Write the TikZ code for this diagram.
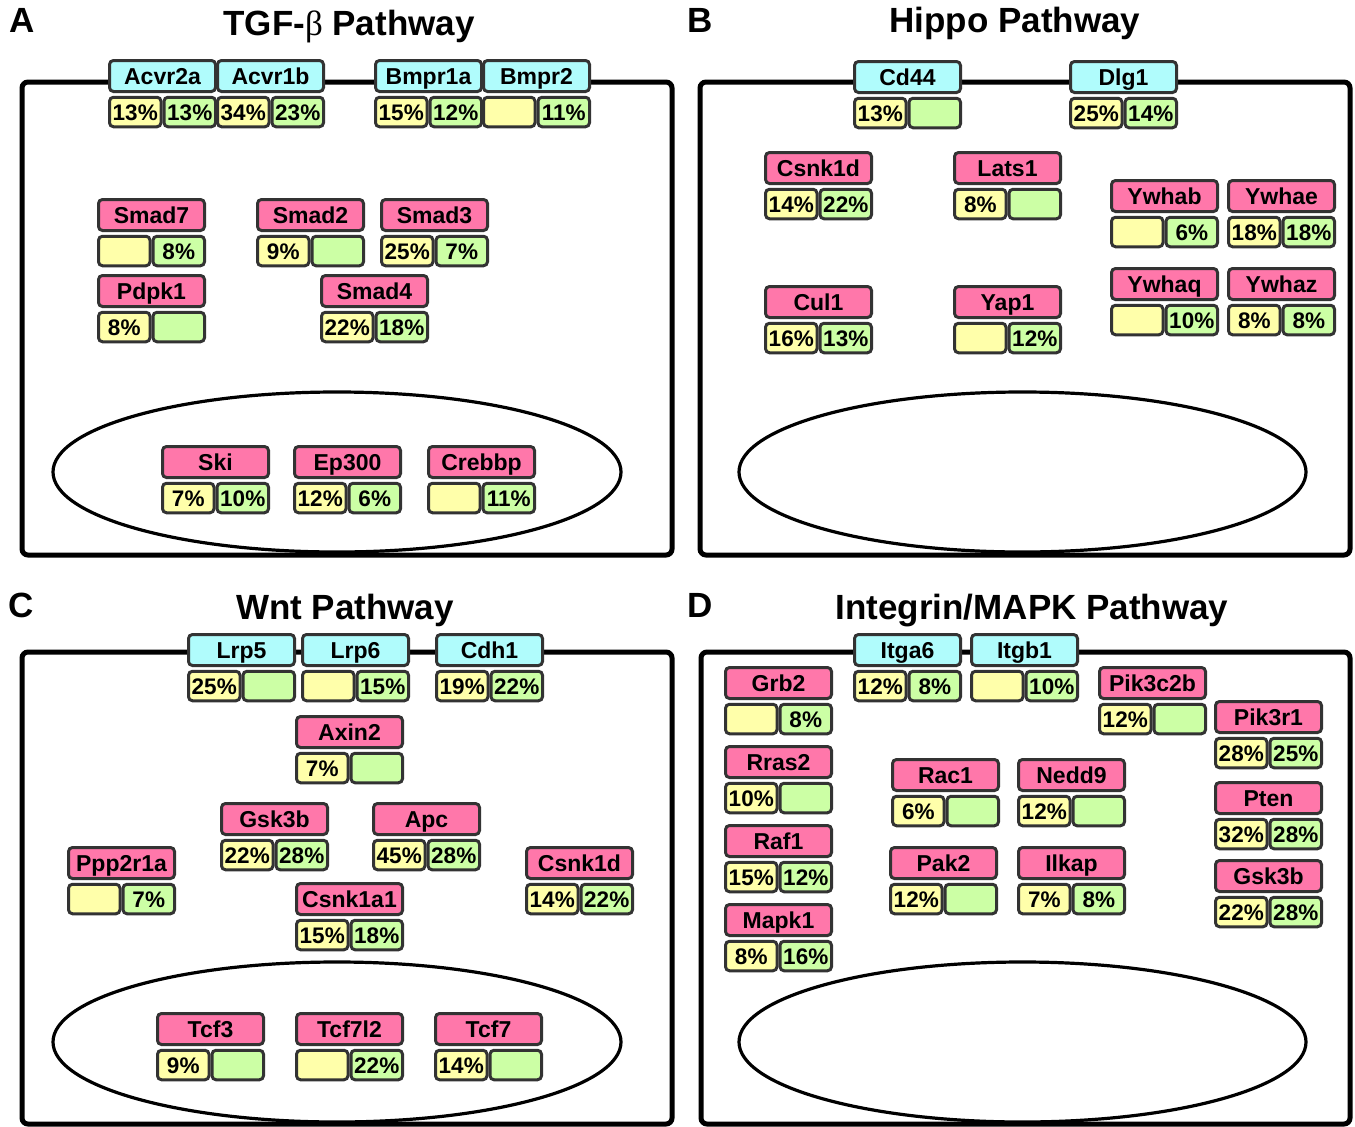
\documentclass[tikz,border=0pt]{standalone}
\usepackage{fontspec}
\setmainfont{Liberation Sans}
\newfontfamily\betafont{Liberation Serif}
\definecolor{pinkc}{HTML}{FF77AA}
\definecolor{cyanc}{HTML}{B0FCFC}
\definecolor{yelc}{HTML}{FFFFAA}
\definecolor{grnc}{HTML}{CCFFA5}
\definecolor{bord}{HTML}{333333}
\newcommand\genefont{\fontsize{23}{23}\selectfont\bfseries}
\newcommand\pctfont{\fontsize{22.5}{22.5}\selectfont\bfseries}
\newcommand\titlefont{\fontsize{35}{35}\selectfont\bfseries}
% #1 id, #2 x, #3 y, #4 header style, #5 label, #6 left pct, #7 right pct
\newcommand\gene[7]{%
  \node[#4] (#1) at (#2+54.5,#3+17) {#5};
  \node[ycell] (#1-l) at (#2+27.25,#3+53) {#6};
  \node[gcell] (#1-r) at (#2+81.75,#3+53) {#7};
}
\begin{document}
\begin{tikzpicture}[x=1pt,y=-1pt,
  box/.style={draw=bord, line width=3pt, rounded corners=4pt, inner sep=0pt,
    text height=16.2pt, text depth=0pt, align=center},
  hdrP/.style={box, font=\genefont, fill=pinkc, minimum width=106pt, minimum height=31pt},
  hdrC/.style={box, font=\genefont, fill=cyanc, minimum width=106pt, minimum height=31pt},
  ycell/.style={box, font=\pctfont, fill=yelc, minimum width=51.5pt, minimum height=29.5pt},
  gcell/.style={box, font=\pctfont, fill=grnc, minimum width=51.5pt, minimum height=29.5pt},
  cellwall/.style={draw=black, line width=5pt, rounded corners=6pt},
  nucleus/.style={draw=black, line width=3.2pt},
  ttl/.style={font=\titlefont, anchor=base, inner sep=0pt},
  plab/.style={font=\titlefont, anchor=base west, inner sep=0pt}]
\useasboundingbox (0,0) rectangle (1355,1127);

% ---------- panel frames ----------
\draw[cellwall] (22,82) rectangle (672,555);
\draw[cellwall] (700,82) rectangle (1350,555);
\draw[cellwall] (22,652) rectangle (672,1124);
\draw[cellwall] (701,652) rectangle (1350,1124);
\draw[nucleus] (337,472) ellipse [x radius=284pt, y radius=80pt];
\draw[nucleus] (1022.5,472) ellipse [x radius=283.5pt, y radius=80pt];
\draw[nucleus] (337,1042) ellipse [x radius=284pt, y radius=80pt];
\draw[nucleus] (1022.5,1042) ellipse [x radius=283.5pt, y radius=80pt];

% ---------- labels and titles ----------
\node[plab] (labA) at (9,32) {A};
\node[plab] (labB) at (687,32) {B};
\node[plab] (labC) at (8,617) {C};
\node[plab] (labD) at (687,617) {D};
\node[ttl] (ttlA) at (349,35) {TGF-{\betafont\mdseries β} Pathway};
\node[ttl] (ttlB) at (1015,32) {Hippo Pathway};
\node[ttl] (ttlC) at (345,619) {Wnt Pathway};
\node[ttl] (ttlD) at (1032,619) {Integrin/MAPK Pathway};

% ---------- A: TGF-beta ----------
\gene{A-Acvr2a}{108}{59}{hdrC}{Acvr2a}{13\%}{13\%}
\gene{A-Acvr1b}{216}{59}{hdrC}{Acvr1b}{34\%}{23\%}
\gene{A-Bmpr1a}{374}{59}{hdrC}{Bmpr1a}{15\%}{12\%}
\gene{A-Bmpr2}{482}{59}{hdrC}{Bmpr2}{}{11\%}
\gene{A-Smad7}{97}{198}{hdrP}{Smad7}{}{8\%}
\gene{A-Smad2}{256}{198}{hdrP}{Smad2}{9\%}{}
\gene{A-Smad3}{380}{198}{hdrP}{Smad3}{25\%}{7\%}
\gene{A-Pdpk1}{97}{274}{hdrP}{Pdpk1}{8\%}{}
\gene{A-Smad4}{320}{274}{hdrP}{Smad4}{22\%}{18\%}
\gene{A-Ski}{161}{445}{hdrP}{Ski}{7\%}{10\%}
\gene{A-Ep300}{293}{445}{hdrP}{Ep300}{12\%}{6\%}
\gene{A-Crebbp}{427}{445}{hdrP}{Crebbp}{}{11\%}

% ---------- B: Hippo ----------
\gene{B-Cd44}{853}{60}{hdrC}{Cd44}{13\%}{}
\gene{B-Dlg1}{1069}{60}{hdrC}{Dlg1}{25\%}{14\%}
\gene{B-Csnk1d}{764}{151}{hdrP}{Csnk1d}{14\%}{22\%}
\gene{B-Lats1}{953}{151}{hdrP}{Lats1}{8\%}{}
\gene{B-Ywhab}{1110}{179}{hdrP}{Ywhab}{}{6\%}
\gene{B-Ywhae}{1227}{179}{hdrP}{Ywhae}{18\%}{18\%}
\gene{B-Cul1}{764}{285}{hdrP}{Cul1}{16\%}{13\%}
\gene{B-Yap1}{953}{285}{hdrP}{Yap1}{}{12\%}
\gene{B-Ywhaq}{1110}{267}{hdrP}{Ywhaq}{}{10\%}
\gene{B-Ywhaz}{1227}{267}{hdrP}{Ywhaz}{8\%}{8\%}

% ---------- C: Wnt ----------
\gene{C-Lrp5}{187}{633}{hdrC}{Lrp5}{25\%}{}
\gene{C-Lrp6}{301}{633}{hdrC}{Lrp6}{}{15\%}
\gene{C-Cdh1}{435}{633}{hdrC}{Cdh1}{19\%}{22\%}
\gene{C-Axin2}{295}{715}{hdrP}{Axin2}{7\%}{}
\gene{C-Gsk3b}{220}{802}{hdrP}{Gsk3b}{22\%}{28\%}
\gene{C-Apc}{372}{802}{hdrP}{Apc}{45\%}{28\%}
\gene{C-Ppp2r1a}{67}{846}{hdrP}{Ppp2r1a}{}{7\%}
\gene{C-Csnk1d}{525}{846}{hdrP}{Csnk1d}{14\%}{22\%}
\gene{C-Csnk1a1}{295}{882}{hdrP}{Csnk1a1}{15\%}{18\%}
\gene{C-Tcf3}{156}{1012}{hdrP}{Tcf3}{9\%}{}
\gene{C-Tcf7l2}{295}{1012}{hdrP}{Tcf7l2}{}{22\%}
\gene{C-Tcf7}{434}{1012}{hdrP}{Tcf7}{14\%}{}

% ---------- D: Integrin/MAPK ----------
\gene{D-Itga6}{853}{633}{hdrC}{Itga6}{12\%}{8\%}
\gene{D-Itgb1}{970}{633}{hdrC}{Itgb1}{}{10\%}
\gene{D-Grb2}{724}{666}{hdrP}{Grb2}{}{8\%}
\gene{D-Rras2}{724}{745}{hdrP}{Rras2}{10\%}{}
\gene{D-Raf1}{724}{824}{hdrP}{Raf1}{15\%}{12\%}
\gene{D-Mapk1}{724}{903}{hdrP}{Mapk1}{8\%}{16\%}
\gene{D-Rac1}{891}{758}{hdrP}{Rac1}{6\%}{}
\gene{D-Nedd9}{1017}{758}{hdrP}{Nedd9}{12\%}{}
\gene{D-Pak2}{889}{846}{hdrP}{Pak2}{12\%}{}
\gene{D-Ilkap}{1017}{846}{hdrP}{Ilkap}{7\%}{8\%}
\gene{D-Pik3c2b}{1098}{666}{hdrP}{Pik3c2b}{12\%}{}
\gene{D-Pik3r1}{1214}{700}{hdrP}{Pik3r1}{28\%}{25\%}
\gene{D-Pten}{1214}{781}{hdrP}{Pten}{32\%}{28\%}
\gene{D-Gsk3b}{1214}{859}{hdrP}{Gsk3b}{22\%}{28\%}
\end{tikzpicture}
\end{document}
